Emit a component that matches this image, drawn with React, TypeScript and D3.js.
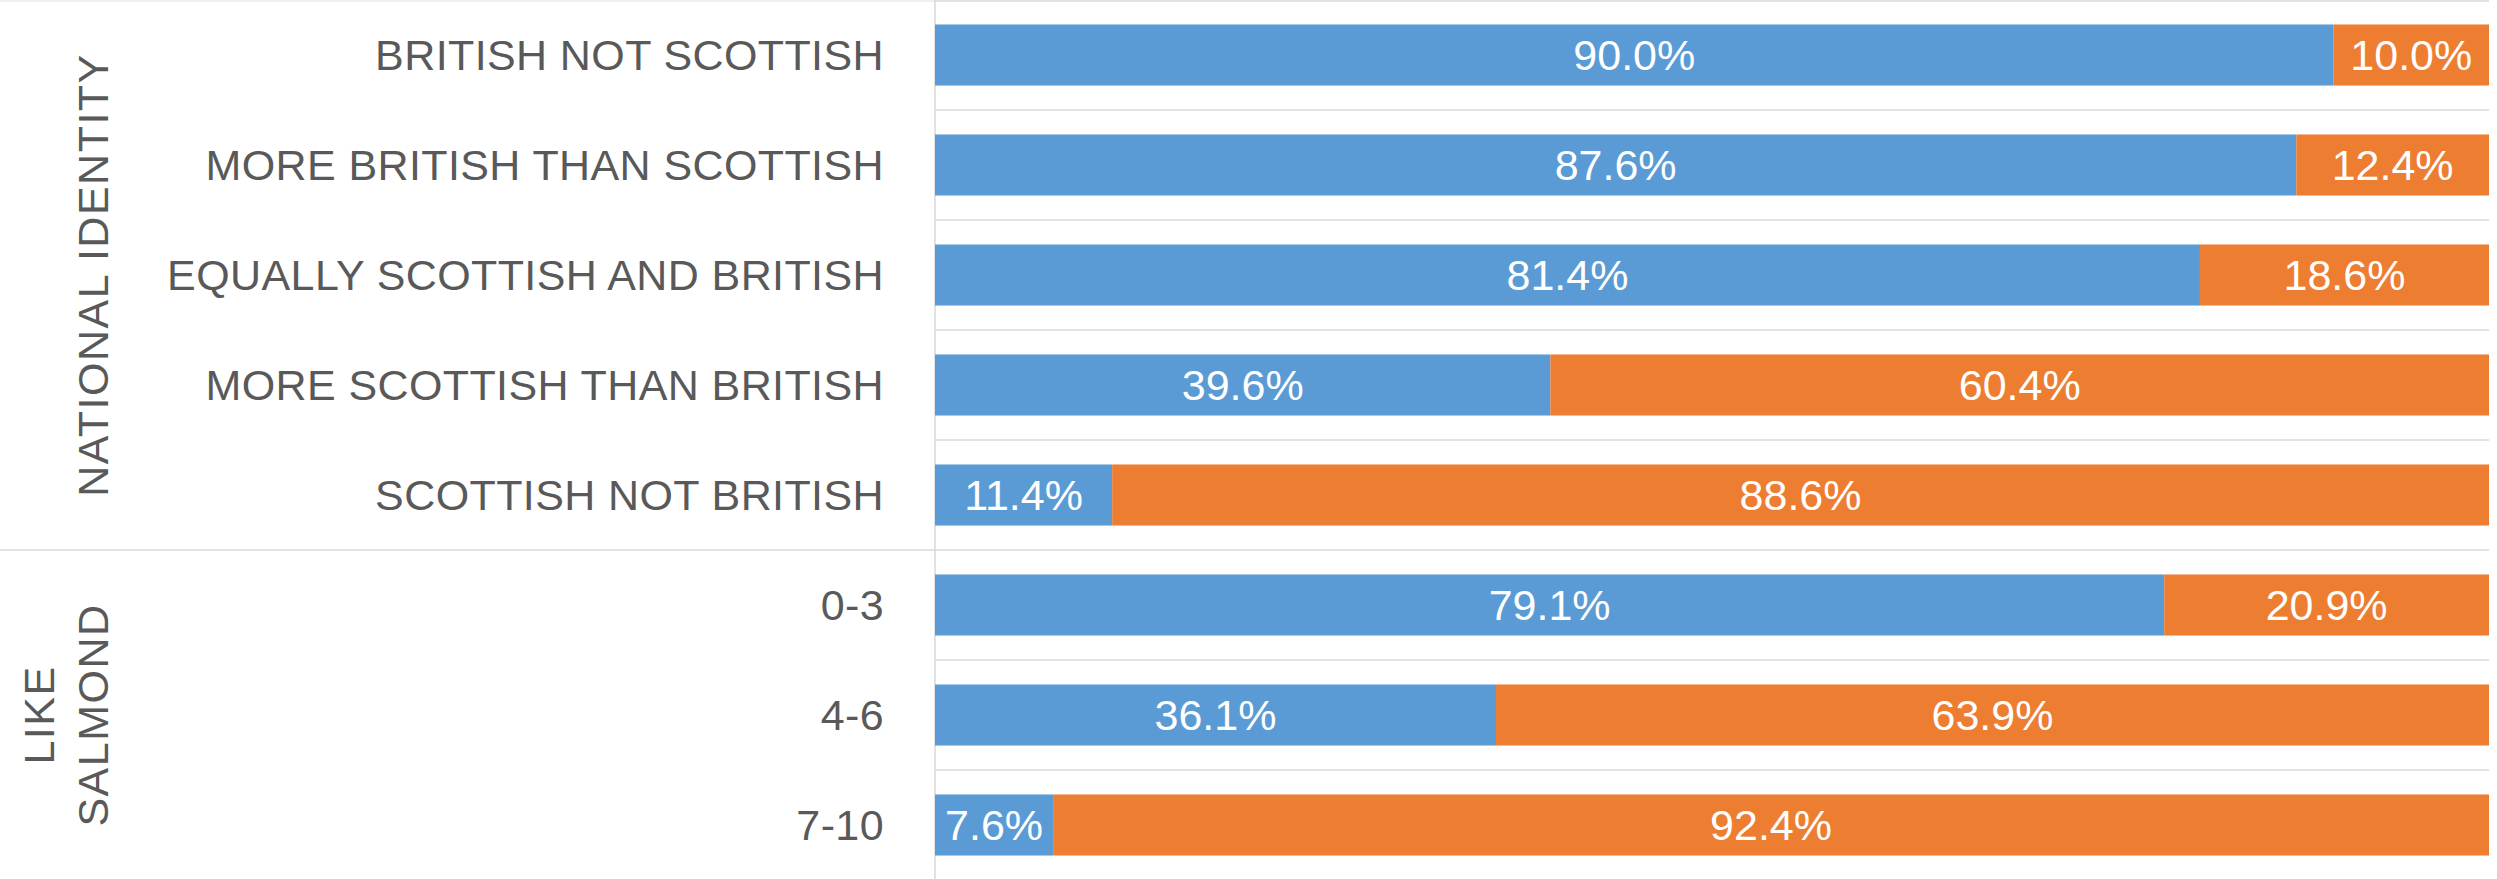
import React, { Component } from 'react';
import * as d3 from 'd3';

const categories = [
    'BRITISH NOT SCOTTISH',
    'MORE BRITISH THAN SCOTTISH',
    'EQUALLY SCOTTISH AND BRITISH',
    'MORE SCOTTISH THAN BRITISH',
    'SCOTTISH NOT BRITISH',
    '0-3',
    '4-6',
    '7-10'
];

const groupNames = [['NATIONAL IDENTITY'], ['LIKE', 'SALMOND']];
const groupSizes = [5, 3];

const noShare = [90.0, 87.6, 81.4, 39.6, 11.4, 79.1, 36.1, 7.6];
const yesShare = [10.0, 12.4, 18.6, 60.4, 88.6, 20.9, 63.9, 92.4];

const seriesColours = ['#5b9bd5', '#ed7d31'];

interface Segment {
    cat: string,
    x0: number,
    x1: number,
    value: number,
    colour: string
}

export default class App extends Component {
    private canvas: any;
    private width: number;
    private height: number;
    private margin: { top: number, right: number, bottom: number, left: number };

    constructor(props: {}) {
        super(props);
        this.canvas = React.createRef();
        this.width = 2497;
        this.height = 879;
        this.margin = { top: 0, right: 8, bottom: -1, left: 935 };
    }

    componentDidMount() {
        this.buildChart();
    }

    buildChart = () => {
        const root = d3.select(this.canvas.current);
        root.selectAll('*').remove();

        const svg = root.append('svg')
            .attr('width', this.width)
            .attr('height', this.height)
            .style('position', 'absolute')
            .style('left', 0)
            .style('top', 0)
            .style('font-family', '"Liberation Sans", Arial, sans-serif');

        const x = d3.scaleLinear()
            .domain([0, 100])
            .range([this.margin.left, this.width - this.margin.right]);

        const y = d3.scaleBand<string>()
            .domain(categories)
            .range([this.margin.top, this.height - this.margin.bottom])
            .paddingInner(0.445)
            .paddingOuter(0.2225);

        const step = y.step();
        const top = this.margin.top;

        // gridlines between categories
        svg.selectAll('.grid')
            .data(d3.range(categories.length + 1))
            .enter().append('line')
            .attr('class', 'grid')
            .attr('x1', x(0))
            .attr('x2', x(100))
            .attr('y1', (i: number) => top + i * step + (i === 0 ? 1 : 0))
            .attr('y2', (i: number) => top + i * step + (i === 0 ? 1 : 0))
            .attr('stroke', '#d9d9d9')
            .attr('stroke-width', 1.5);

        // group boundaries run across the label area
        const bounds = [0, ...d3.cumsum(groupSizes)];
        svg.selectAll('.groupLine')
            .data(bounds)
            .enter().append('line')
            .attr('class', 'groupLine')
            .attr('x1', 0)
            .attr('x2', x(0))
            .attr('y1', (b: number) => top + b * step + (b === 0 ? 1 : 0))
            .attr('y2', (b: number) => top + b * step + (b === 0 ? 1 : 0))
            .attr('stroke', '#d9d9d9')
            .attr('stroke-width', 1.5)
            .attr('opacity', (b: number) => (b === 0 ? 0.5 : 1));

        // axis line
        svg.append('line')
            .attr('x1', x(0))
            .attr('x2', x(0))
            .attr('y1', top)
            .attr('y2', this.height)
            .attr('stroke', '#d9d9d9')
            .attr('stroke-width', 1.5);

        const segments: Segment[] = [];
        categories.forEach((cat, i) => {
            segments.push({ cat, x0: 0, x1: noShare[i], value: noShare[i], colour: seriesColours[0] });
            segments.push({ cat, x0: noShare[i], x1: noShare[i] + yesShare[i], value: yesShare[i], colour: seriesColours[1] });
        });

        svg.selectAll('.bar')
            .data(segments)
            .enter().append('rect')
            .attr('class', 'bar')
            .attr('x', (d: Segment) => x(d.x0))
            .attr('width', (d: Segment) => x(d.x1) - x(d.x0))
            .attr('y', (d: Segment) => y(d.cat) as number)
            .attr('height', y.bandwidth())
            .attr('fill', (d: Segment) => d.colour);

        svg.selectAll('.valueLabel')
            .data(segments)
            .enter().append('text')
            .attr('class', 'valueLabel')
            .attr('x', (d: Segment) => (x(d.x0) + x(d.x1)) / 2)
            .attr('y', (d: Segment) => (y(d.cat) as number) + y.bandwidth() / 2)
            .attr('text-anchor', 'middle')
            .attr('dominant-baseline', 'central')
            .attr('fill', '#ffffff')
            .attr('font-size', 43)
            .text((d: Segment) => d.value.toFixed(1) + '%');

        // category labels
        svg.selectAll('.catLabel')
            .data(categories)
            .enter().append('text')
            .attr('class', 'catLabel')
            .attr('x', x(0) - 51)
            .attr('y', (d: string) => (y(d) as number) + y.bandwidth() / 2)
            .attr('text-anchor', 'end')
            .attr('dominant-baseline', 'central')
            .attr('fill', '#595959')
            .attr('font-size', 43)
            .attr('letter-spacing', 0.4)
            .text((d: string) => d);

        // group labels, rotated
        const lineGap = 54;
        groupNames.forEach((lines, g) => {
            const cy = top + (bounds[g] + bounds[g + 1]) / 2 * step;
            const lastX = 93;
            const label = svg.append('text')
                .attr('transform', `translate(${lastX - (lines.length - 1) * lineGap}, ${cy}) rotate(-90)`)
                .attr('text-anchor', 'middle')
                .attr('fill', '#595959')
                .attr('font-size', 43)
                .attr('letter-spacing', 1.5);
            lines.forEach((line, k) => {
                label.append('tspan')
                    .attr('x', 0)
                    .attr('y', k * lineGap)
                    .attr('dominant-baseline', 'central')
                    .text(line);
            });
        });
    }

    render() {
        return (
            <div ref={this.canvas}></div>
        );
    }
}
